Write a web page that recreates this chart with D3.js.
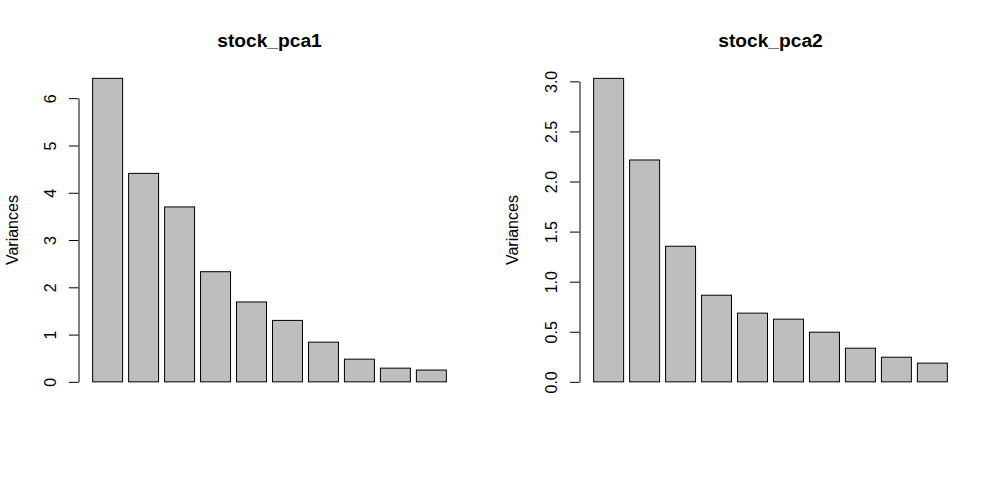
<!DOCTYPE html>
<html><head><meta charset="utf-8">
<script src="https://cdn.jsdelivr.net/npm/d3@7"></script>
<style>
html,body{margin:0;padding:0;background:#fff;}
svg{display:block;font-family:"Liberation Sans",Arial,sans-serif;}
</style></head>
<body>
<svg id="c" width="1001" height="483"></svg>
<script>
const titles = ["stock_pca1", "stock_pca2"];
const components = ["Comp.1","Comp.2","Comp.3","Comp.4","Comp.5","Comp.6","Comp.7","Comp.8","Comp.9","Comp.10"];
const pca1Variances = [6.42, 4.41, 3.70, 2.33, 1.69, 1.30, 0.84, 0.48, 0.29, 0.25];
const pca2Variances = [3.03, 2.215, 1.354, 0.865, 0.686, 0.626, 0.496, 0.336, 0.246, 0.187];
const pca1Ticks = [0, 1, 2, 3, 4, 5, 6];
const pca1TickLabels = ["0", "1", "2", "3", "4", "5", "6"];
const pca2Ticks = [0, 0.5, 1, 1.5, 2, 2.5, 3];
const pca2TickLabels = ["0.0", "0.5", "1.0", "1.5", "2.0", "2.5", "3.0"];
const yLabel = "Variances";

const svg = d3.select("#c");

function panel(cfg) {
  const {title, values, ticks, tickLabels, left, right, labelX, ylabX} = cfg;
  const top = 66.2, bottom = 394;
  const m = d3.max(values);
  const y = d3.scaleLinear().domain([-0.04 * m, 1.04 * m]).range([bottom, top]);
  const n = values.length;
  // R barplot: width 1, space 0.2
  const xl = 0.2, xr = n * 1.2;
  const ext = 0.04 * (xr - xl);
  const x = d3.scaleLinear().domain([xl - ext, xr + ext]).range([left, right]);
  const g = svg.append("g");

  g.selectAll("rect").data(values).enter().append("rect")
    .attr("x", (d, i) => x(0.2 + i * 1.2))
    .attr("width", (d, i) => x(1.2 + i * 1.2) - x(0.2 + i * 1.2))
    .attr("y", d => y(d))
    .attr("height", d => y(0) - y(d))
    .attr("fill", "#bebebe")
    .attr("stroke", "#000")
    .attr("stroke-width", 1);

  const ya = d3.scaleLinear().domain([ticks[0], ticks[ticks.length - 1]])
    .range([y(ticks[0]), y(ticks[ticks.length - 1])]);
  const axis = d3.axisLeft(ya).tickValues(ticks).tickSize(9.6).tickSizeOuter(0)
    .tickFormat((d, i) => tickLabels[i]);
  const ag = g.append("g").attr("transform", `translate(${left},0)`).call(axis);
  ag.select(".domain").attr("stroke", "#000").attr("stroke-width", 1);
  ag.selectAll(".tick line").attr("stroke", "#000");
  ag.selectAll(".tick text")
    .attr("x", null).attr("dy", null)
    .attr("font-size", 16)
    .attr("font-family", "Liberation Sans, Arial, sans-serif")
    .attr("fill", "#000")
    .attr("text-anchor", "middle")
    .attr("transform", `translate(${labelX - left},0) rotate(-90)`)
    .attr("dy", "0.35em");

  g.append("text")
    .attr("transform", `translate(${ylabX},${(top + bottom) / 2}) rotate(-90)`)
    .attr("text-anchor", "middle").attr("dy", "0.35em")
    .attr("font-size", 16).attr("fill", "#000")
    .text(yLabel);

  g.append("text")
    .attr("x", (left + right) / 2).attr("y", 47)
    .attr("text-anchor", "middle")
    .attr("font-size", 19.2).attr("font-weight", "bold").attr("fill", "#000")
    .text(title);
}

panel({title: titles[0], values: pca1Variances, ticks: pca1Ticks, tickLabels: pca1TickLabels,
  left: 78.5, right: 460.5, labelX: 50, ylabX: 12.5});
panel({title: titles[1], values: pca2Variances, ticks: pca2Ticks, tickLabels: pca2TickLabels,
  left: 579.5, right: 961.5, labelX: 551.5, ylabX: 512.5});
</script>
</body></html>
